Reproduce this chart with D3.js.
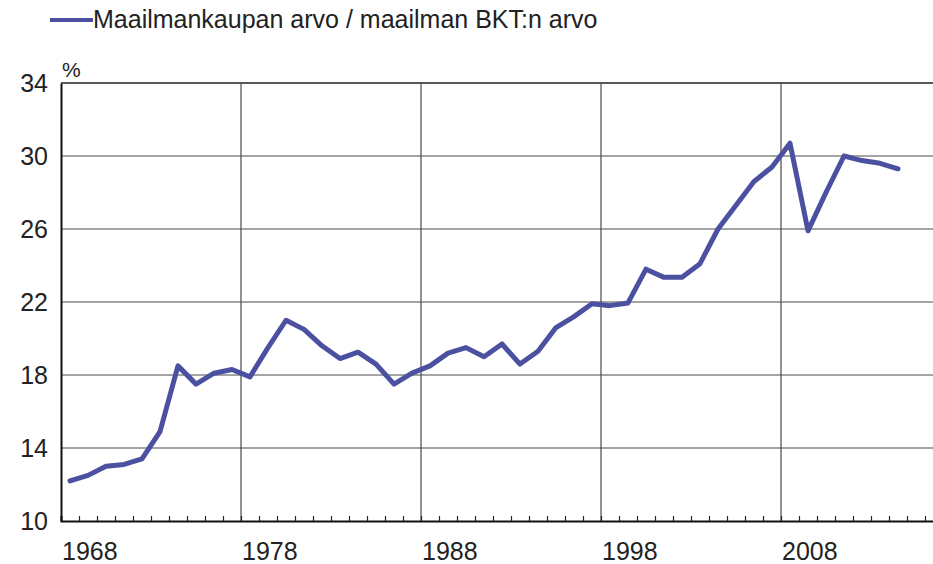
<!DOCTYPE html>
<html>
<head>
<meta charset="utf-8">
<script src="https://cdn.jsdelivr.net/npm/d3@7"></script>
<style>
  html, body { margin: 0; padding: 0; background: #fff; }
  svg { display: block; font-family: "Liberation Sans", Arial, sans-serif; }
</style>
</head>
<body>
<svg id="chart" width="933" height="564"></svg>
<script>
// ---- data ----
const years = d3.range(1968, 2015);
const values = [
  12.2, 12.5, 13.0, 13.1, 13.4, 14.9, 18.5, 17.5, 18.1, 18.3,
  17.9, 19.5, 21.0, 20.5, 19.6, 18.9, 19.25, 18.6, 17.5, 18.1,
  18.5, 19.2, 19.5, 19.0, 19.7, 18.6, 19.3, 20.6, 21.2, 21.9,
  21.8, 21.95, 23.8, 23.35, 23.35, 24.1, 26.0, 27.3, 28.6, 29.4,
  30.7, 25.9, 28.0, 30.0, 29.75, 29.6, 29.3
];
const yTicks = [10, 14, 18, 22, 26, 30, 34];
const xLabelYears = [1968, 1978, 1988, 1998, 2008];
const gridYears = [1978, 1988, 1998, 2008];
const seriesName = "Maailmankaupan arvo / maailman BKT:n arvo";
const unitLabel = "%";

// ---- layout ----
const svg = d3.select("#chart");
const mLeft = 61, mRight = 943, mTop = 83, mBottom = 521;
const lineColor = "#4b51a0";

const x = d3.scaleLinear().domain([1967.5, 2016.5]).range([mLeft, mRight]);
const y = d3.scaleLinear().domain([10, 34]).range([mBottom, mTop]);

// horizontal gridlines
svg.append("g").selectAll("line")
  .data(yTicks.filter(v => v > 10))
  .join("line")
  .attr("x1", mLeft).attr("x2", mRight)
  .attr("y1", d => y(d)).attr("y2", d => y(d))
  .attr("stroke", d => d === 34 ? "#222" : "#4a4a4a")
  .attr("stroke-width", d => d === 34 ? 1.5 : 1.2);

// vertical gridlines at category boundaries
svg.append("g").selectAll("line")
  .data(gridYears)
  .join("line")
  .attr("x1", d => x(d - 0.5)).attr("x2", d => x(d - 0.5))
  .attr("y1", mTop).attr("y2", mBottom)
  .attr("stroke", "#4a4a4a")
  .attr("stroke-width", 1.2);

// x-axis (ticks at category boundaries, pointing inward)
const boundaries = d3.range(1968, 2017).map(yy => yy - 0.5);
const xAxis = svg.append("g")
  .attr("transform", `translate(0,${mBottom})`)
  .call(d3.axisBottom(x).tickValues(boundaries).tickSize(-5).tickFormat(""));
xAxis.select(".domain").attr("stroke", "#111").attr("stroke-width", 2);
xAxis.selectAll(".tick line").attr("stroke", "#222").attr("stroke-width", 1.2);

// x labels, left-aligned at category start
svg.append("g").selectAll("text")
  .data(xLabelYears)
  .join("text")
  .attr("x", d => x(d - 0.5) + 1)
  .attr("y", 560)
  .attr("font-size", 25)
  .attr("fill", "#222")
  .text(d => d);

// y-axis
const yAxis = svg.append("g")
  .attr("transform", `translate(${mLeft},0)`)
  .call(d3.axisLeft(y).tickValues(yTicks).tickSize(0).tickPadding(13));
yAxis.select(".domain").attr("stroke", "#111").attr("stroke-width", 2);
yAxis.selectAll(".tick text")
  .attr("font-size", 25)
  .attr("font-family", "'Liberation Sans', Arial, sans-serif")
  .attr("fill", "#222");

// unit label
svg.append("text")
  .attr("x", mLeft + 1).attr("y", 77)
  .attr("font-size", 21)
  .attr("fill", "#222")
  .text(unitLabel);

// series line
const line = d3.line()
  .x((d, i) => x(years[i]))
  .y(d => y(d));
svg.append("path")
  .datum(values)
  .attr("d", line)
  .attr("fill", "none")
  .attr("stroke", lineColor)
  .attr("stroke-width", 5)
  .attr("stroke-linejoin", "round")
  .attr("stroke-linecap", "round");

// legend
const lg = svg.append("g");
lg.append("line")
  .attr("x1", 50).attr("x2", 93)
  .attr("y1", 20).attr("y2", 20)
  .attr("stroke", lineColor).attr("stroke-width", 4);
lg.append("text")
  .attr("x", 93).attr("y", 28)
  .attr("font-size", 25)
  .attr("fill", "#222")
  .text(seriesName);
</script>
</body>
</html>
